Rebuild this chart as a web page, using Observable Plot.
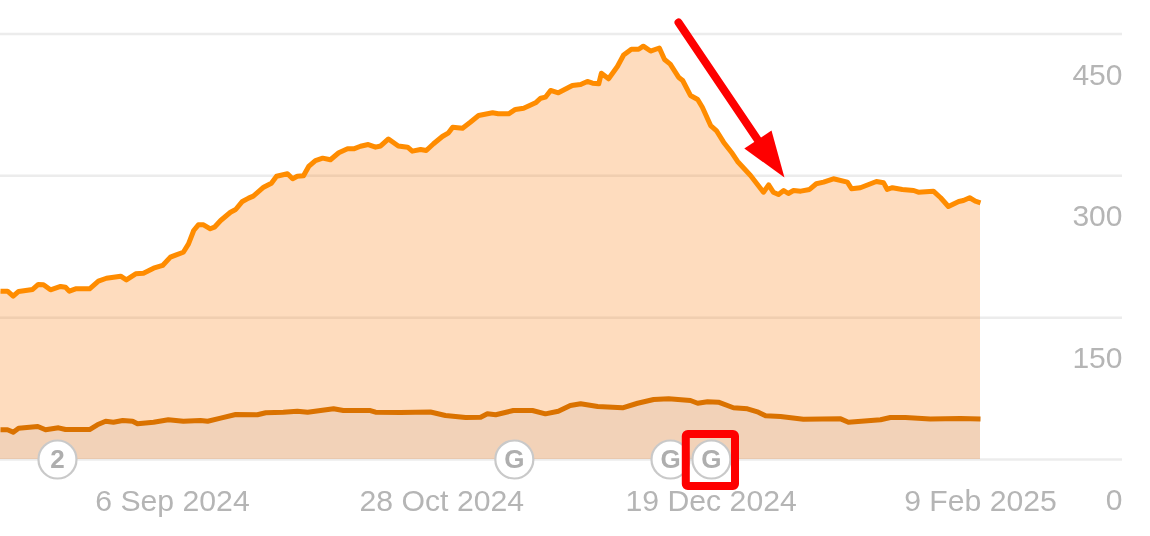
<!DOCTYPE html>
<html>
<head>
<meta charset="utf-8">
<script src="https://cdn.jsdelivr.net/npm/d3@7"></script>
<script src="https://cdn.jsdelivr.net/npm/@observablehq/plot@0.6"></script>
<style>
html,body{margin:0;padding:0;background:#fff;overflow:hidden}
svg{display:block;filter:blur(0.45px)}
</style>
</head>
<body>
<div id="chart"></div>
<script>
const startDate = Date.UTC(2024, 7, 4);
const toDate = d => new Date(startDate + d * 864e5);

// Days since 4 Aug 2024, and values for the upper series
const upperDays = [-0.2,1.15,2.25,3.3,6,7.1,8.1,9.45,11.4,12.35,13.1,14.3,17,18.7,20.25,23,24.1,25.9,27.4,29.35,31.1,32.6,33.6,35.1,36.1,37.1,38,39,40.3,41.1,42.3,44.2,45.2,46.5,47.7,48.6,50.6,52.1,53.1,55.2,56.2,57.1,58.3,59.3,60.6,62,63.5,65.1,66.8,68,69.3,70.8,72.2,73.2,74.7,76.6,78.4,79.3,80.9,82,83.4,85.1,86.3,87.1,89,90.5,92.1,94.8,95.9,97.9,99.2,100.8,103.1,104.1,105,106,107.5,110.2,111.8,113.1,114.1,115.3,115.8,117.2,118.9,120.1,121.6,123,123.9,125.3,127,128,129.1,130.7,131.5,133,134.4,135.3,136.9,138,139.4,141.1,142.1,144.6,147.1,148.1,149,150,151,151.9,152.9,154.3,156,157.3,158.7,160.6,163.3,164.1,165.8,168.9,170.3,171,172,173.9,176.1,177,179.9,181.3,182.8,184.8,185.7,186.9,188,189];
const upperValues = [178,178,172.7,177.7,179.8,185.1,184.8,179.5,183,182.2,178,180.5,180.5,188.6,191.7,193.9,190,196.4,197,202.3,205.2,214,216.1,219.2,228.1,242.2,248.2,248.2,244,245.7,252.8,261.5,264.4,272.9,276.4,278.5,288,292.2,299.6,302.2,296.9,299.6,300,309.9,316.2,318.7,317,324.4,328.6,328.6,331.3,333.1,330.3,331.6,339,331.6,330.3,326.1,327.9,326.8,333.9,341.6,345.5,351.4,350.4,356.7,363.8,366.7,365.6,365.6,370.2,371.5,377.2,382.1,383.2,390.3,387.8,395.5,396.6,399.8,398,397.3,408.5,402.6,415.6,427.8,433.9,433.9,437.1,432,435.2,423,418.1,404.3,400.8,385,380.7,372.6,353.2,347.9,335.6,323.6,315.2,300.4,282.7,290.5,282.7,280.3,284.5,281.3,284.5,283.8,285.6,291.6,293.3,296.9,293.3,286.3,287.4,294,292.6,285.6,287.4,285.6,284.5,282.7,283.8,276.8,267.6,272.9,273.9,276.8,273.2,271.5];

// Days since 4 Aug 2024, and values for the lower series
const lowerDays = [-0.2,1.15,2.25,3.3,7,8.5,11,12.35,17,18.5,20.1,21.6,23.4,25.3,26.25,29.35,32.2,35.1,38.4,39.8,42.3,45.2,49.4,51,54.4,57.1,59.1,64.1,66,71.2,72.2,77,82.8,85.7,89.6,92.5,93.8,95.4,98.8,102.5,105,107.5,109.8,111.8,115.1,119.9,122.8,125.9,128.8,133,134.4,136.3,138.4,141.3,144,146.1,147.5,150.4,154.8,162,163.5,169.7,171.6,174.5,179.3,185.1,189];
const lowerValues = [31.4,31.4,28.9,33.1,34.9,31.4,33.5,31.7,31.7,36.7,40.5,39.4,41.2,40.5,37.8,39.4,42,40.5,41.2,40.5,43.7,47.6,47.3,49.4,50,51.1,50,53.6,51.8,51.8,50,49.7,50.2,46.5,44.4,44.7,48.3,47.3,51.8,51.8,48.3,51.1,57.1,58.9,56.1,54.7,59.5,63.5,64.2,62.4,59.5,61,60.6,54.7,53.6,50,46.2,45.5,42.6,43,39.4,42,44.4,44.4,42.8,43.4,42.8];

// Axis ticks
const xTickDates = ["2024-09-06","2024-10-28","2024-12-19","2025-02-09"];
const yTickValues = [0,150,300,450];

// Update badges along the baseline
const badgeDays = [10.8,99,129.15,137.05];
const badgeLabels = ["2","G","G","G"];

// Red annotation: arrow from top right of the peak down to the drop, box around the last badge
const arrowShaftDays = [130.7,145.95];
const arrowShaftValues = [462.2,338.4];
const arrowHeadDays = [151.15,148.65,143.4,151.15];
const arrowHeadValues = [298.2,347.9,328.9,298.2];
const boxDays = [132.2,141.7];
const boxValues = [26.4,-28.6];

const upper = upperDays.map((d,i)=>({date:toDate(d),value:upperValues[i]}));
const lower = lowerDays.map((d,i)=>({date:toDate(d),value:lowerValues[i]}));
const badges = badgeDays.map((d,i)=>({date:toDate(d),value:0,label:badgeLabels[i]}));
const head = arrowHeadDays.map((d,i)=>({date:toDate(d),value:arrowHeadValues[i]}));
const fmt = d3.utcFormat("%-d %b %Y");

const plot = Plot.plot({
  width:1150, height:536,
  marginLeft:0, marginRight:28, marginTop:33, marginBottom:77,
  style:{fontFamily:"'Liberation Sans', Arial, sans-serif",background:"#fff",overflow:"visible"},
  x:{type:"utc",domain:[toDate(-0.2),toDate(189)],range:[0,980]},
  y:{domain:[0,450],range:[459,33.5]},
  marks:[
    Plot.ruleY(yTickValues,{stroke:"#ececec",strokeWidth:2.5}),
    Plot.areaY(upper,{x:"date",y:"value",fill:"#fb7d0e",fillOpacity:0.27}),
    Plot.areaY(lower,{x:"date",y:"value",fill:"#85808a",fillOpacity:0.1}),
    Plot.line(upper,{x:"date",y:"value",stroke:"#ff8c00",strokeWidth:5,strokeLinejoin:"round",strokeLinecap:"butt"}),
    Plot.line(lower,{x:"date",y:"value",stroke:"#da7200",strokeWidth:5,strokeLinejoin:"round",strokeLinecap:"butt"}),
    Plot.axisX({ticks:xTickDates.map(s=>new Date(s)),tickFormat:fmt,tickSize:0,tickPadding:0,dy:30,label:null,fontSize:30.2,fill:"#b5b5b5",lineAnchor:"top",textStroke:"none"}),
    Plot.axisY({ticks:yTickValues,anchor:"right",tickSize:0,tickPadding:0,dy:41,label:null,fontSize:30,fill:"#b5b5b5",textAnchor:"end"}),
    Plot.dot(badges,{x:"date",y:"value",r:19,fill:"#fff",stroke:"#c9c9c9",strokeWidth:2.2}),
    Plot.text(badges,{x:"date",y:"value",text:"label",fontSize:26,fontWeight:"bold",fill:"#aeaeae"}),
    Plot.link([0],{x1:()=>toDate(arrowShaftDays[0]),x2:()=>toDate(arrowShaftDays[1]),y1:()=>arrowShaftValues[0],y2:()=>arrowShaftValues[1],stroke:"#fe0000",strokeWidth:8,strokeLinecap:"round"}),
    Plot.line(head,{x:"date",y:"value",fill:"#fe0000",stroke:"none"}),
    Plot.rect([0],{x1:()=>toDate(boxDays[0]),x2:()=>toDate(boxDays[1]),y1:()=>boxValues[0],y2:()=>boxValues[1],fill:"none",stroke:"#fe0000",strokeWidth:8,r:2})
  ]
});
document.getElementById("chart").append(plot);
</script>
</body>
</html>
